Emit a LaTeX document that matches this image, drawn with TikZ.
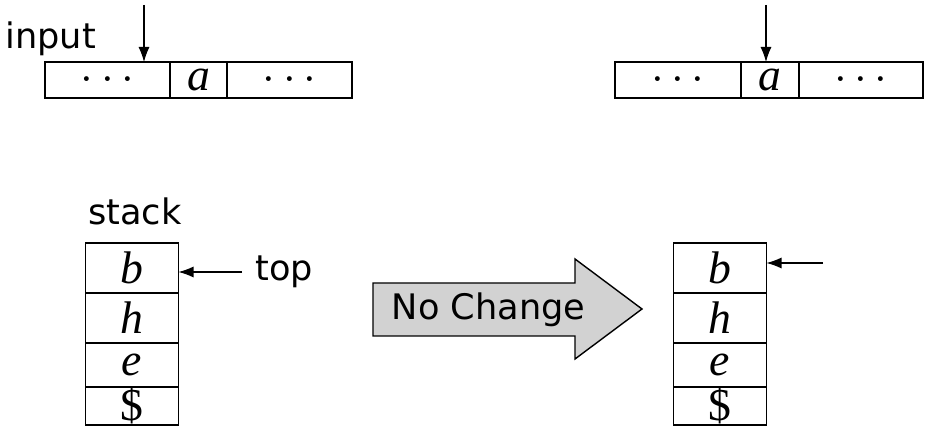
\documentclass[tikz,border=0pt]{standalone}
\usepackage{fix-cm}
\usepackage{fontspec}
\setsansfont{DejaVu Sans}
\newfontfamily\cellfont{Liberation Serif}
\usetikzlibrary{positioning,arrows.meta}

\begin{document}
\begin{tikzpicture}[
      cell/.style={draw,line width=0.6pt,outer sep=0pt,inner sep=0pt,minimum height=0.72cm,font=\cellfont\fontsize{26}{28}\selectfont},
      slot/.style={draw,line width=0.6pt,outer sep=0pt,inner sep=0pt,minimum width=1.86cm,font=\cellfont\fontsize{26}{28}\selectfont},
      lbl/.style={inner sep=0pt,font=\sffamily\fontsize{20}{24}\selectfont},
      arr/.style={-{Latex[length=3mm,width=2.2mm]},line width=0.6pt}]
    \useasboundingbox (0,0) rectangle (18.52,-8.7);
    % input tape, before
    \node[cell,minimum width=2.5cm,anchor=west] (ldotsa) at (0.9,-1.6) {$\cdots$};
    \node[cell,minimum width=1.14cm,right=0pt of ldotsa] (la) {\itshape a};
    \node[cell,minimum width=2.5cm,right=0pt of la] (ldotsb) {$\cdots$};
    \node[lbl,anchor=base west] (input) at (0.1,-0.98) {input};
    \coordinate (lhead) at (2.88,-0.1);
    \draw[arr] (lhead) -- (lhead |- ldotsa.north);
    % input tape, after
    \node[cell,minimum width=2.52cm,anchor=west] (rdotsa) at (12.3,-1.6) {$\cdots$};
    \node[cell,minimum width=1.16cm,right=0pt of rdotsa] (ra) {\itshape a};
    \node[cell,minimum width=2.48cm,right=0pt of ra] (rdotsb) {$\cdots$};
    \coordinate (rhead) at (15.32,-0.1);
    \draw[arr] (rhead) -- (rhead |- rdotsa.north);
    % stacks
    \foreach \nm/\lab/\ytop/\hgt in {b/\itshape b/-4.86/1.0,h/\itshape h/-5.86/1.0,e/\itshape e/-6.86/0.88,d/\$/-7.74/0.76} {
      \node[slot,minimum height=\hgt cm,anchor=north] (l\nm) at (2.64,\ytop) {\lab};
      \node[slot,minimum height=\hgt cm,anchor=north] (r\nm) at (14.4,\ytop) {\lab};
    }
    \node[lbl,anchor=base west] (stacklbl) at (1.76,-4.5) {stack};
    \node[lbl,anchor=west] (toplbl) at (5.1,-5.44) {top};
    \draw[arr] ([xshift=-0.26cm]toplbl.west) -- (toplbl.west -| lb.east);
    \coordinate (rtop) at (16.46,-5.26);
    \draw[arr] (rtop) -- (rtop -| rb.east);
    % no change arrow
    \draw[line width=0.8pt,fill=gray!35] (7.46,-5.66) -- (11.5,-5.66) -- (11.5,-5.18) -- (12.84,-6.18)
      -- (11.5,-7.18) -- (11.5,-6.72) -- (7.46,-6.72) -- cycle;
    \node[lbl] (nochange) at (9.77,-6.2) {No Change};
  \end{tikzpicture}
\end{document}
